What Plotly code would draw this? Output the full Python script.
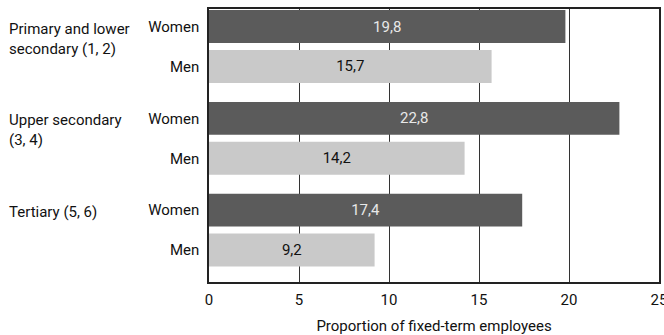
import plotly.graph_objects as go

groups = ["Primary and lower<br>secondary (1, 2)", "Upper secondary<br>(3, 4)", "Tertiary (5, 6)"]
sexes = ["Women", "Men"]
women = [19.8, 22.8, 17.4]
men = [15.7, 14.2, 9.2]
x_ticks = [0, 5, 10, 15, 20, 25]
x_title = "Proportion of fixed-term employees"

FONT = "Roboto"
FS = 15
GROUP_STRIDE = 2.3
pos_w = [g * GROUP_STRIDE for g in range(len(groups))]
pos_m = [g * GROUP_STRIDE + 1 for g in range(len(groups))]

def fmt(v):
    return f"{v:.1f}".replace(".", ",")

fig = go.Figure()
fig.add_trace(go.Bar(
    y=pos_w, x=women, orientation="h", width=0.825,
    marker=dict(color="#5b5b5b", line=dict(width=0)),
    text=[fmt(v) for v in women], textposition="inside", insidetextanchor="middle",
    textfont=dict(color="#e8e8e8", size=FS, family=FONT), name="Women",
))
fig.add_trace(go.Bar(
    y=pos_m, x=men, orientation="h", width=0.825,
    marker=dict(color="#c9c9c9", line=dict(width=0)),
    text=[fmt(v) for v in men], textposition="inside", insidetextanchor="middle",
    textfont=dict(color="#111111", size=FS, family=FONT), name="Men",
))

tickvals = []
ticktext = []
for g in range(len(groups)):
    tickvals += [pos_w[g], pos_m[g]]
    ticktext += sexes

for g, label in enumerate(groups):
    fig.add_annotation(
        x=-202 / 450, xref="paper", xanchor="left",
        y=pos_w[g], yref="y", yanchor="top", yshift=9,
        text=label, showarrow=False, align="left",
        font=dict(family=FONT, size=FS, color="#111111"),
    )

fig.update_layout(
    width=664, height=335,
    margin=dict(l=209, r=5, t=9, b=53, autoexpand=False),
    paper_bgcolor="white", plot_bgcolor="white",
    showlegend=False, barmode="overlay",
    font=dict(family=FONT, size=FS, color="#111111"),
    uniformtext=dict(mode="show", minsize=8),
)
fig.update_xaxes(
    range=[0, 25], tickvals=x_ticks, ticktext=[str(t) for t in x_ticks],
    showgrid=True, gridcolor="#333333", gridwidth=1,
    showline=True, linecolor="#222222", linewidth=1.5, mirror=True,
    zeroline=False, ticks="", automargin=False, ticklabeloverflow="allow",
    ticklabelstandoff=3,
    title=dict(text=x_title, font=dict(size=FS, family=FONT), standoff=16),
    tickfont=dict(size=FS, family=FONT),
)
fig.update_yaxes(
    range=[6.4, -0.44], tickvals=tickvals, ticktext=ticktext,
    showgrid=False, showline=True, linecolor="#222222", linewidth=1.5, mirror=True,
    zeroline=False, ticks="", ticklabelstandoff=5, automargin=False,
    tickfont=dict(size=FS, family=FONT),
)

fig.write_html(
    "out.html",
    config={"displayModeBar": False},
    post_script="document.body.style.margin='0';document.body.style.overflow='hidden';",
)
